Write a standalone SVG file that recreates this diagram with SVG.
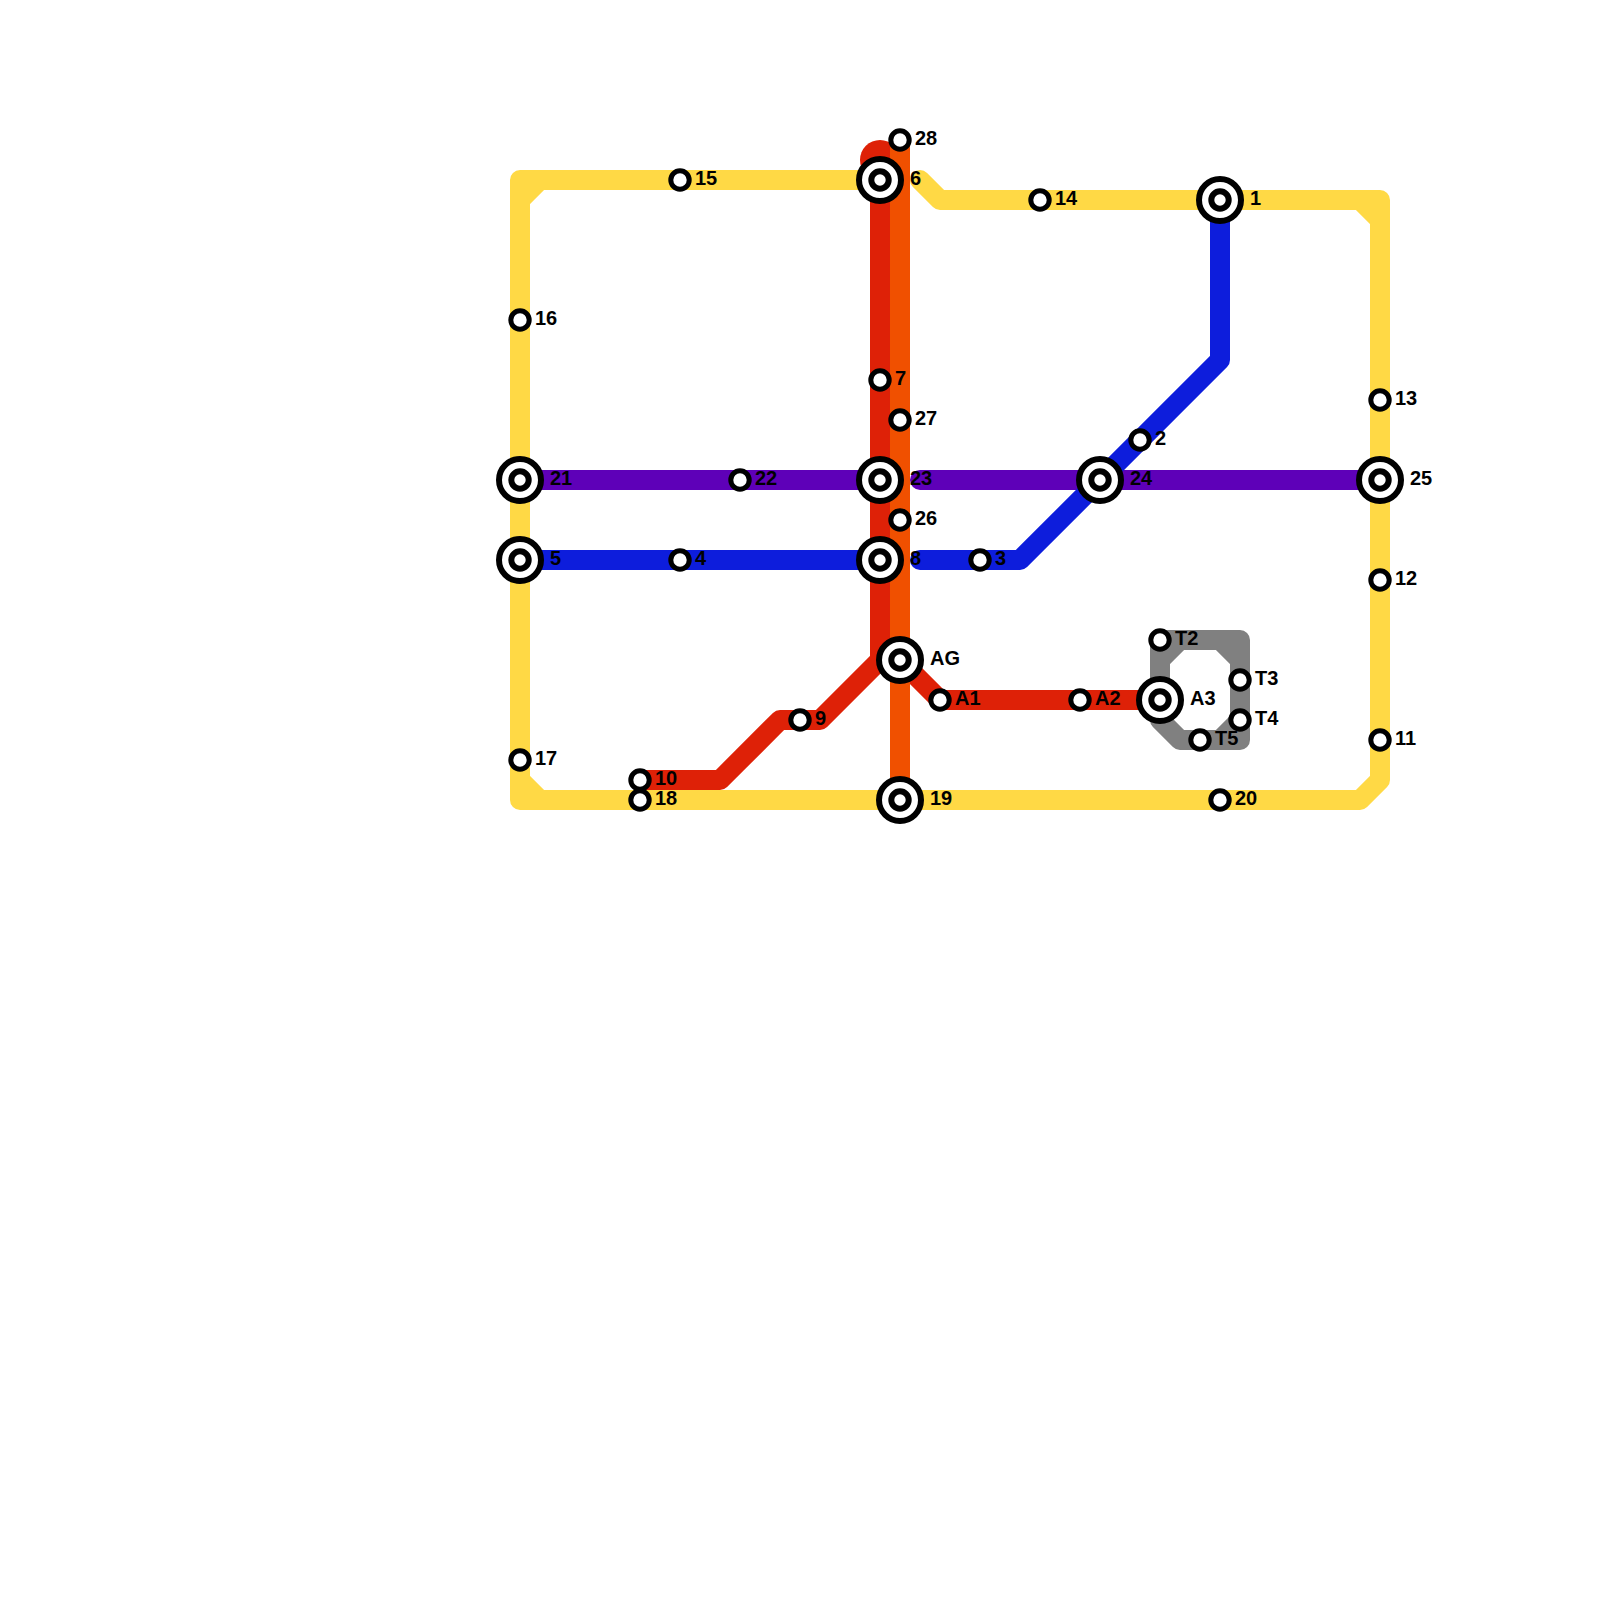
<svg xmlns="http://www.w3.org/2000/svg" width="1600" height="1600" viewBox="0 0 1600 1600">
<style>
.l{fill:none;stroke-width:20;stroke-linejoin:round;stroke-linecap:round}
.y{stroke:#FFD945}.p{stroke:#5E00B8}.b{stroke:#0D1DDC}.r{stroke:#DE2107}.o{stroke:#F05000}.g{stroke:#808080}
.ring{fill:#fff;stroke:#000;stroke-width:6}
.inner{fill:#fff;stroke:#000;stroke-width:6}
.dot{fill:#fff;stroke:#000;stroke-width:5}
text{font-family:"Liberation Sans",Arial,sans-serif;font-weight:700;font-size:20px;fill:#000}
</style>
<rect width="1600" height="1600" fill="#fff"/>
<g id="connectors">
<path class="l y" d="M880 180H540M520 200V780L540 800H1360L1380 780V220L1360 200H940L920 180M520 200L540 180H520ZM520 780V800H540ZM1360 200H1380V220Z"/>
<path class="l g" d="M1160 640H1240V740H1180L1160 720ZM1180 640L1160 660M1220 640L1240 660M1240 720L1220 740"/>
<path class="l p" d="M520 480H880M920 480H1380"/>
<path class="l b" d="M520 560H880M920 560H1020L1220 360V200"/>
<circle cx="880" cy="160" r="20" fill="#DE2107"/>
<path class="l r" d="M880 160V660L820 720H780L720 780H640M900 660L940 700H1160"/>
<path class="l o" d="M900 140V800"/>
</g>
<g id="st15"><circle class="dot" cx="680" cy="180" r="9.2"/><text x="695" y="185">15</text></g>
<g id="st16"><circle class="dot" cx="520" cy="320" r="9.2"/><text x="535" y="325">16</text></g>
<g id="st21"><circle class="ring" cx="520" cy="480" r="21"/><circle class="inner" cx="520" cy="480" r="8.7"/><text x="550" y="485">21</text></g>
<g id="st5"><circle class="ring" cx="520" cy="560" r="21"/><circle class="inner" cx="520" cy="560" r="8.7"/><text x="550" y="565">5</text></g>
<g id="st17"><circle class="dot" cx="520" cy="760" r="9.2"/><text x="535" y="765">17</text></g>
<g id="st10"><circle class="dot" cx="640" cy="780" r="9.2"/><text x="655" y="785">10</text></g>
<g id="st18"><circle class="dot" cx="640" cy="800" r="9.2"/><text x="655" y="805">18</text></g>
<g id="st4"><circle class="dot" cx="680" cy="560" r="9.2"/><text x="695" y="565">4</text></g>
<g id="st22"><circle class="dot" cx="740" cy="480" r="9.2"/><text x="755" y="485">22</text></g>
<g id="st9"><circle class="dot" cx="800" cy="720" r="9.2"/><text x="815" y="725">9</text></g>
<g id="st6"><circle class="ring" cx="880" cy="180" r="21"/><circle class="inner" cx="880" cy="180" r="8.7"/><text x="910" y="185">6</text></g>
<g id="st7"><circle class="dot" cx="880" cy="380" r="9.2"/><text x="895" y="385">7</text></g>
<g id="st23"><circle class="ring" cx="880" cy="480" r="21"/><circle class="inner" cx="880" cy="480" r="8.7"/><text x="910" y="485">23</text></g>
<g id="st8"><circle class="ring" cx="880" cy="560" r="21"/><circle class="inner" cx="880" cy="560" r="8.7"/><text x="910" y="565">8</text></g>
<g id="st28"><circle class="dot" cx="900" cy="140" r="9.2"/><text x="915" y="145">28</text></g>
<g id="st27"><circle class="dot" cx="900" cy="420" r="9.2"/><text x="915" y="425">27</text></g>
<g id="st26"><circle class="dot" cx="900" cy="520" r="9.2"/><text x="915" y="525">26</text></g>
<g id="stAG"><circle class="ring" cx="900" cy="660" r="21"/><circle class="inner" cx="900" cy="660" r="8.7"/><text x="930" y="665">AG</text></g>
<g id="st19"><circle class="ring" cx="900" cy="800" r="21"/><circle class="inner" cx="900" cy="800" r="8.7"/><text x="930" y="805">19</text></g>
<g id="stA1"><circle class="dot" cx="940" cy="700" r="9.2"/><text x="955" y="705">A1</text></g>
<g id="st3"><circle class="dot" cx="980" cy="560" r="9.2"/><text x="995" y="565">3</text></g>
<g id="st14"><circle class="dot" cx="1040" cy="200" r="9.2"/><text x="1055" y="205">14</text></g>
<g id="stA2"><circle class="dot" cx="1080" cy="700" r="9.2"/><text x="1095" y="705">A2</text></g>
<g id="st24"><circle class="ring" cx="1100" cy="480" r="21"/><circle class="inner" cx="1100" cy="480" r="8.7"/><text x="1130" y="485">24</text></g>
<g id="st2"><circle class="dot" cx="1140" cy="440" r="9.2"/><text x="1155" y="445">2</text></g>
<g id="st1"><circle class="ring" cx="1220" cy="200" r="21"/><circle class="inner" cx="1220" cy="200" r="8.7"/><text x="1250" y="205">1</text></g>
<g id="st20"><circle class="dot" cx="1220" cy="800" r="9.2"/><text x="1235" y="805">20</text></g>
<g id="stT2"><circle class="dot" cx="1160" cy="640" r="9.2"/><text x="1175" y="645">T2</text></g>
<g id="stA3"><circle class="ring" cx="1160" cy="700" r="21"/><circle class="inner" cx="1160" cy="700" r="8.7"/><text x="1190" y="705">A3</text></g>
<g id="stT3"><circle class="dot" cx="1240" cy="680" r="9.2"/><text x="1255" y="685">T3</text></g>
<g id="stT4"><circle class="dot" cx="1240" cy="720" r="9.2"/><text x="1255" y="725">T4</text></g>
<g id="stT5"><circle class="dot" cx="1200" cy="740" r="9.2"/><text x="1215" y="745">T5</text></g>
<g id="st13"><circle class="dot" cx="1380" cy="400" r="9.2"/><text x="1395" y="405">13</text></g>
<g id="st25"><circle class="ring" cx="1380" cy="480" r="21"/><circle class="inner" cx="1380" cy="480" r="8.7"/><text x="1410" y="485">25</text></g>
<g id="st12"><circle class="dot" cx="1380" cy="580" r="9.2"/><text x="1395" y="585">12</text></g>
<g id="st11"><circle class="dot" cx="1380" cy="740" r="9.2"/><text x="1395" y="745">11</text></g>
</svg>
